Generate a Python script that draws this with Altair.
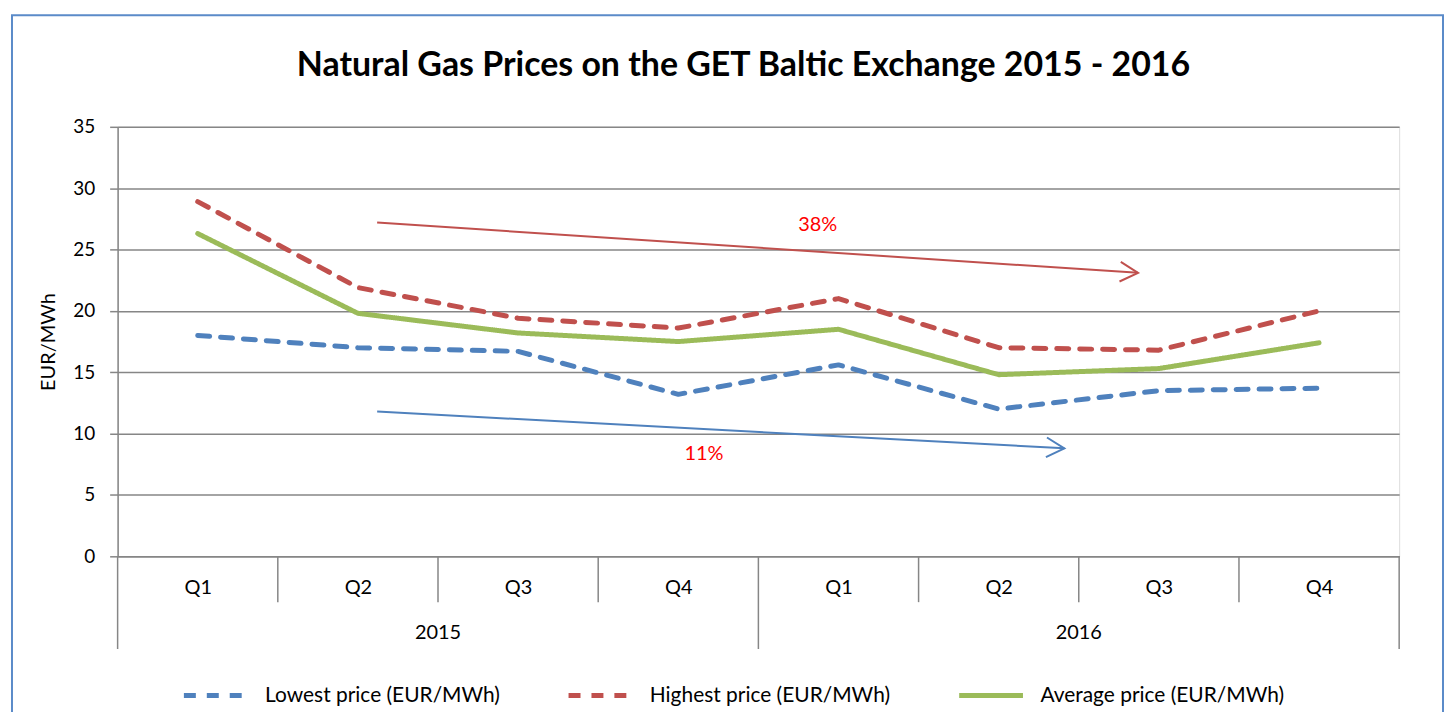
import math
import json
import altair as alt
import pandas as pd

# ---------------- data ----------------
quarters = ["Q1", "Q2", "Q3", "Q4", "Q1", "Q2", "Q3", "Q4"]
years = ["2015", "2016"]
year_mid = [2, 6]
quarter_bounds = [1, 2, 3, 5, 6, 7]
year_bounds = [0, 4, 8]

lowest = [18.0, 17.0, 16.7, 13.2, 15.6, 12.0, 13.5, 13.7]
highest = [28.9, 21.9, 19.4, 18.6, 21.0, 17.0, 16.8, 20.0]
average = [26.3, 19.8, 18.2, 17.5, 18.5, 14.8, 15.3, 17.4]

series_names = ["Lowest price (EUR/MWh)", "Highest price (EUR/MWh)", "Average price (EUR/MWh)"]
series_colors = ["#4F81BD", "#C0504D", "#9BBB59"]

# trend arrows: start / end in (category index, EUR/MWh)
arrow_labels = ["38%", "11%"]
arrow_x1 = [1.62, 1.62]
arrow_y1 = [27.2, 11.8]
arrow_x2 = [6.37, 5.91]
arrow_y2 = [23.1, 8.8]
arrow_text_x = [4.37, 3.66]
arrow_text_y = [27.0, 8.3]
arrow_colors = ["#C0504D", "#4F81BD"]

title_text = "Natural Gas Prices on the GET Baltic Exchange 2015 - 2016"

# ---------------- layout ----------------
W, H = 1286, 431
FONT = "Lato"
GREY = "#868686"

rows = []
for i in range(len(quarters)):
    for name, vals in zip(series_names, [lowest, highest, average]):
        rows.append({"idx": i + 0.5, "series": name, "value": vals[i]})
df = pd.DataFrame(rows)

x_scale = alt.Scale(domain=[0, 8], nice=False, zero=False)
y_scale = alt.Scale(domain=[0, 35], nice=False)

label_expr = json.dumps(quarters) + "[floor(datum.value)]"

legend = alt.Legend(
    title=None, orient="none", legendX=64, legendY=536, direction="horizontal",
    symbolType="stroke", symbolSize=64 * 64, symbolStrokeWidth=5,
    labelFontSize=21, labelFont=FONT, labelColor="black", labelOffset=15,
    columnPadding=58, labelLimit=0, padding=0,
)

lines = alt.Chart(df).mark_line(strokeWidth=5, strokeCap="round", strokeJoin="round").encode(
    x=alt.X("idx:Q", scale=x_scale, title=None,
            axis=alt.Axis(values=[i + 0.5 for i in range(8)], labelExpr=label_expr,
                          ticks=False, tickSize=0, grid=False, domainColor=GREY,
                          domainWidth=1.5, labelFontSize=20, labelFont=FONT,
                          labelColor="black", labelPadding=31, labelBaseline="middle")),
    y=alt.Y("value:Q", scale=y_scale, title="EUR/MWh",
            axis=alt.Axis(values=list(range(0, 36, 5)), tickSize=8, tickColor=GREY,
                          tickWidth=1.5, domainColor=GREY, domainWidth=1.5,
                          gridColor=GREY, gridWidth=1.5, labelFontSize=19,
                          labelFont=FONT, labelColor="black", labelPadding=15,
                          titleFont=FONT, titleFontSize=20, titleFontWeight="normal",
                          titleColor="black", titlePadding=14)),
    color=alt.Color("series:N", scale=alt.Scale(domain=series_names, range=series_colors),
                    legend=legend),
    strokeDash=alt.StrokeDash("series:N",
                              scale=alt.Scale(domain=series_names,
                                              range=[[12, 11], [12, 11], [1, 0]]),
                              legend=legend),
)

qsep = alt.Chart(pd.DataFrame({"b": quarter_bounds})).mark_rule(color=GREY, strokeWidth=1.5).encode(
    x=alt.X("b:Q", scale=x_scale), y=alt.value(H), y2=alt.value(H + 46))
ysep = alt.Chart(pd.DataFrame({"b": year_bounds})).mark_rule(color=GREY, strokeWidth=1.5).encode(
    x=alt.X("b:Q", scale=x_scale), y=alt.value(H), y2=alt.value(H + 93))
year_text = alt.Chart(pd.DataFrame({"year": years, "mid": year_mid})).mark_text(
    font=FONT, fontSize=20, baseline="middle", color="black").encode(
    x=alt.X("mid:Q", scale=x_scale), y=alt.value(H + 77), text="year:N")

px_x = W / 8
px_y = H / 35
arrow_layers = []
for k in range(len(arrow_labels)):
    adf = pd.DataFrame({"x1": [arrow_x1[k]], "y1": [arrow_y1[k]], "x2": [arrow_x2[k]],
                        "y2": [arrow_y2[k]], "tx": [arrow_text_x[k]], "ty": [arrow_text_y[k]],
                        "lab": [arrow_labels[k]]})
    ang = math.degrees(math.atan2((arrow_y1[k] - arrow_y2[k]) * px_y,
                                  (arrow_x2[k] - arrow_x1[k]) * px_x))
    shaft = alt.Chart(adf).mark_rule(color=arrow_colors[k], strokeWidth=2).encode(
        x=alt.X("x1:Q", scale=x_scale), y=alt.Y("y1:Q", scale=y_scale),
        x2="x2:Q", y2="y2:Q")
    head = alt.Chart(adf).mark_point(
        shape="M -1 -0.55 L 0 0 L -1 0.55", size=36 * 36, filled=False,
        strokeWidth=2, color=arrow_colors[k], opacity=1, angle=ang).encode(
        x=alt.X("x2:Q", scale=x_scale), y=alt.Y("y2:Q", scale=y_scale))
    lab = alt.Chart(adf).mark_text(font=FONT, fontSize=20, color="#FF0000",
                                   baseline="middle").encode(
        x=alt.X("tx:Q", scale=x_scale), y=alt.Y("ty:Q", scale=y_scale), text="lab:N")
    arrow_layers += [shaft, head, lab]

frame = alt.Chart(pd.DataFrame({"a": [0]})).mark_rect(
    filled=False, stroke="#5B8BC9", strokeWidth=2).encode(
    x=alt.value(-106), x2=alt.value(W + 44), y=alt.value(-112), y2=alt.value(H + 200))

title = alt.Chart(pd.DataFrame({"t": [title_text]})).mark_text(
    font=FONT, fontSize=34, fontWeight="bold", color="black", baseline="middle").encode(
    x=alt.value(W / 2 - 15), y=alt.value(-61), text="t:N")

chart = alt.layer(frame, title, qsep, ysep, year_text, *arrow_layers, lines).properties(
    width=W, height=H,
    padding={"left": 110, "top": 118, "right": 46, "bottom": 155},
    autosize=alt.AutoSizeParams(type="none"),
).configure_view(stroke=None).configure(background="white")

chart.save("out.html", embed_options={"renderer": "svg", "actions": False})
